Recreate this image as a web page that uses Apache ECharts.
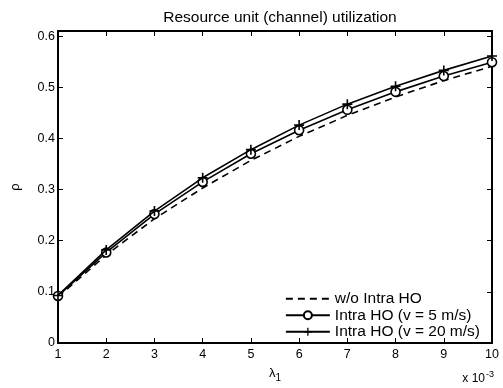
<!DOCTYPE html>
<html>
<head>
<meta charset="utf-8">
<script src="https://cdn.jsdelivr.net/npm/echarts@6/dist/echarts.min.js"></script>
<style>
  html, body { margin: 0; padding: 0; background: #fff; }
  #chart { width: 503px; height: 388px; }
</style>
</head>
<body>
<div id="chart"></div>
<script>
  // lambda_1 (x 10^-3)
  const lambdaVals = [1, 2, 3, 4, 5, 6, 7, 8, 9, 10]
  const noIntraHO = [0.090, 0.172, 0.243, 0.303, 0.357, 0.404, 0.445, 0.481, 0.513, 0.541]
  const intraHO5 = [0.092, 0.177, 0.252, 0.315, 0.370, 0.416, 0.456, 0.491, 0.522, 0.549]
  const intraHO20 = [0.093, 0.182, 0.258, 0.323, 0.378, 0.426, 0.467, 0.502, 0.533, 0.561]
  const seriesNames = ['w/o Intra HO', 'Intra HO (v = 5 m/s)', 'Intra HO (v = 20 m/s)']

  const font = 'Liberation Sans, Arial, Helvetica, sans-serif'
  const plusPath = 'path://M-0.16,-1L0.16,-1L0.16,-0.16L1,-0.16L1,0.16L0.16,0.16L0.16,1L-0.16,1L-0.16,0.16L-1,0.16L-1,-0.16L-0.16,-0.16Z'

  function pairs(ys) {
    return lambdaVals.map((x, i) => [x, ys[i]])
  }

  const frame = { show: true, onZero: false, lineStyle: { color: '#000', width: 2 } }
  const innerTick = { show: true, inside: true, length: 5, lineStyle: { color: '#000', width: 1 } }

  let myChart = echarts.init(document.getElementById('chart'))
  myChart.setOption({
    backgroundColor: '#fff',
    animation: false,
    textStyle: { fontFamily: font, color: '#000' },
    title: {
      text: 'Resource unit (channel) utilization',
      left: 275,
      textAlign: 'center',
      top: 5,
      textStyle: { fontSize: 15.5, fontWeight: 'normal', color: '#000', fontFamily: font }
    },
    grid: { left: 58, right: 11, top: 31, bottom: 39 },
    legend: {
      right: 18,
      bottom: 43,
      orient: 'vertical',
      itemWidth: 44,
      itemHeight: 10,
      itemGap: 0,
      textStyle: { fontSize: 15.5, lineHeight: 16.5, color: '#000', fontFamily: font, padding: [0, 0, 0, 0] },
      data: [
        { name: seriesNames[0], itemStyle: { opacity: 0 } },
        { name: seriesNames[1] },
        { name: seriesNames[2] }
      ]
    },
    xAxis: [
      {
        type: 'value',
        min: 1,
        max: 10,
        interval: 1,
        name: '{a|λ}{b|1}',
        nameLocation: 'middle',
        nameGap: 21,
        nameTextStyle: {
          rich: {
            a: { fontSize: 13, fontFamily: font, color: '#000' },
            b: { fontSize: 10, fontFamily: font, color: '#000', padding: [9, 0, 0, 0] }
          }
        },
        axisLine: frame,
        axisTick: innerTick,
        splitLine: { show: false },
        axisLabel: { fontSize: 12.5, color: '#000', margin: 5, fontFamily: font }
      },
      {
        type: 'value',
        position: 'top',
        min: 1,
        max: 10,
        interval: 1,
        axisLine: frame,
        axisTick: innerTick,
        axisLabel: { show: false },
        splitLine: { show: false }
      }
    ],
    yAxis: [
      {
        type: 'value',
        min: 0,
        max: 0.61,
        interval: 0.1,
        name: 'ρ',
        nameLocation: 'middle',
        nameGap: 36,
        nameTextStyle: { fontSize: 13, color: '#000', fontFamily: font },
        axisLine: frame,
        axisTick: innerTick,
        splitLine: { show: false },
        axisLabel: { fontSize: 12.5, color: '#000', margin: 3, showMaxLabel: false, fontFamily: font }
      },
      {
        type: 'value',
        position: 'right',
        min: 0,
        max: 0.61,
        interval: 0.1,
        axisLine: frame,
        axisTick: innerTick,
        axisLabel: { show: false },
        splitLine: { show: false }
      }
    ],
    graphic: [
      {
        type: 'text',
        right: 9,
        bottom: 3,
        style: {
          text: '{a|x 10}{b|-3}',
          rich: {
            a: { fontSize: 12, fontFamily: font, fill: '#000' },
            b: { fontSize: 9, fontFamily: font, fill: '#000', padding: [0, 0, 9, 1] }
          }
        }
      }
    ],
    series: [
      {
        name: seriesNames[0],
        type: 'line',
        data: pairs(noIntraHO),
        symbol: 'none',
        lineStyle: { color: '#000', width: 1.6, type: [7, 5] },
        itemStyle: { color: '#000' },
        z: 2
      },
      {
        name: seriesNames[1],
        type: 'line',
        data: pairs(intraHO5),
        symbol: 'circle',
        symbolSize: 9,
        showAllSymbol: true,
        lineStyle: { color: '#000', width: 1.6 },
        itemStyle: { color: '#fff', borderColor: '#000', borderWidth: 1.6 },
        z: 3
      },
      {
        name: seriesNames[2],
        type: 'line',
        data: pairs(intraHO20),
        symbol: plusPath,
        symbolSize: 10,
        showAllSymbol: true,
        lineStyle: { color: '#000', width: 1.6 },
        itemStyle: { color: '#000' },
        z: 4
      }
    ]
  })
</script>
</body>
</html>
